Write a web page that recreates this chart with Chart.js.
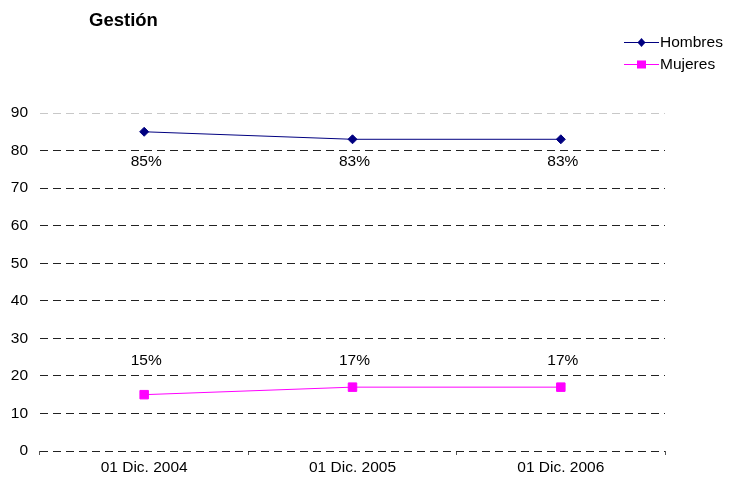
<!DOCTYPE html>
<html>
<head>
<meta charset="utf-8">
<script src="https://cdn.jsdelivr.net/npm/chart.js@4"></script>
<style>
  html, body { margin: 0; padding: 0; background: #fff; }
  #wrap { width: 729px; height: 480px; }
</style>
</head>
<body>
<div id="wrap"><canvas id="myChart" width="729" height="480"></canvas></div>
<script>
// data
var fechas = ['01 Dic. 2004', '01 Dic. 2005', '01 Dic. 2006'];
var hombres = [85, 83, 83];
var mujeres = [15, 17, 17];
var hombresLabels = ['85%', '83%', '83%'];
var mujeresLabels = ['15%', '17%', '17%'];

var FONT = '"Liberation Sans", Arial, sans-serif';

// title, legend and % labels
var extras = {
    id: 'extras',
    afterDatasetsDraw: function (chart) {
        var ctx = chart.ctx;
        var yScale = chart.scales.y;
        ctx.save();
        ctx.fillStyle = '#000';
        ctx.font = 'bold 18.5px ' + FONT;
        ctx.textAlign = 'left';
        ctx.textBaseline = 'middle';
        ctx.fillText('Gestión', 89, 21);

        // legend
        var items = [
            { text: 'Hombres', color: '#000080', style: 'rectRot', y: 42 },
            { text: 'Mujeres', color: '#FF00FF', style: 'rect', y: 64 }
        ];
        ctx.font = '15.5px ' + FONT;
        items.forEach(function (it) {
            ctx.strokeStyle = it.color;
            ctx.lineWidth = 1;
            ctx.beginPath();
            ctx.moveTo(624, it.y + 0.5);
            ctx.lineTo(659, it.y + 0.5);
            ctx.stroke();
            ctx.fillStyle = it.color;
            if (it.style === 'rectRot') {
                ctx.beginPath();
                ctx.moveTo(641.5, it.y - 4);
                ctx.lineTo(645.5, it.y + 0.5);
                ctx.lineTo(641.5, it.y + 5);
                ctx.lineTo(637.5, it.y + 0.5);
                ctx.closePath();
                ctx.fill();
            } else {
                ctx.fillRect(637, it.y - 3.5, 9, 8);
            }
            ctx.fillStyle = '#000';
            ctx.fillText(it.text, 660, it.y + 1);
        });

        // point labels (same row for each series)
        ctx.textAlign = 'center';
        ctx.font = '15.5px ' + FONT;
        var rowH = yScale.getPixelForValue(77);
        var rowM = yScale.getPixelForValue(24);
        chart.getDatasetMeta(0).data.forEach(function (pt, i) {
            ctx.fillText(hombresLabels[i], pt.x + 2, rowH);
        });
        chart.getDatasetMeta(1).data.forEach(function (pt, i) {
            ctx.fillText(mujeresLabels[i], pt.x + 2, rowM);
        });
        ctx.restore();
    }
};

var area = document.getElementById('myChart');
new Chart(area, {
    type: 'line',
    data: {
        labels: fechas,
        datasets: [{
            label: 'Hombres',
            data: hombres,
            borderColor: '#000080',
            backgroundColor: '#000080',
            borderWidth: 1,
            pointStyle: 'rectRot',
            pointRadius: 4.5,
            pointHoverRadius: 4.5,
            tension: 0
        }, {
            label: 'Mujeres',
            data: mujeres,
            borderColor: '#FF00FF',
            backgroundColor: '#FF00FF',
            borderWidth: 1,
            pointStyle: 'rect',
            pointRadius: 6,
            pointHoverRadius: 6,
            tension: 0
        }]
    },
    options: {
        responsive: false,
        animation: false,
        events: [],
        layout: { padding: { top: 113, right: 64, bottom: 0, left: 0 } },
        plugins: {
            legend: { display: false },
            title: { display: false },
            tooltip: { enabled: false }
        },
        scales: {
            x: {
                offset: true,
                border: { display: false },
                grid: {
                    offset: true,
                    drawOnChartArea: false,
                    drawTicks: true,
                    tickLength: 4,
                    color: '#555'
                },
                ticks: {
                    color: '#000',
                    font: { family: FONT, size: 15.5 },
                    padding: 3,
                    maxRotation: 0
                },
                afterFit: function (scale) { scale.height = 29; }
            },
            y: {
                min: 0,
                max: 90,
                grid: {
                    drawTicks: false,
                    color: function (c) { return c.tick && c.tick.value === 90 ? '#c8c8c8' : '#222'; },
                    lineWidth: 1
                },
                border: { display: false, dash: [8, 5] },
                ticks: {
                    stepSize: 10,
                    color: '#000',
                    font: { family: FONT, size: 15.5 },
                    padding: 12
                },
                afterFit: function (scale) { scale.width = 40; }
            }
        }
    },
    plugins: [extras]
});
</script>
</body>
</html>
